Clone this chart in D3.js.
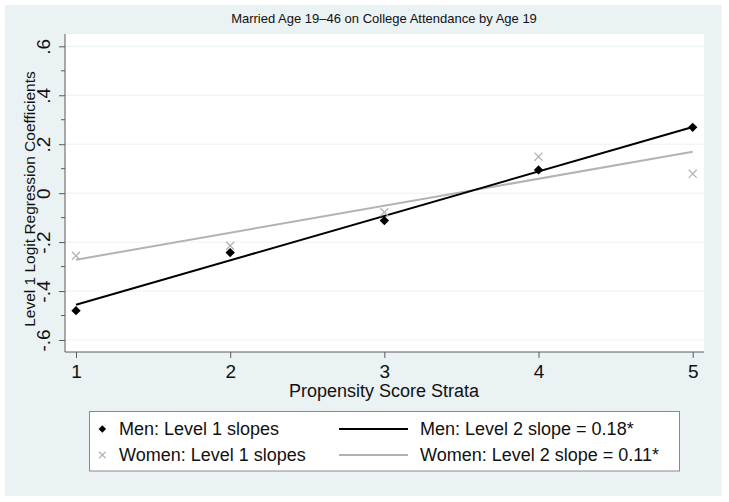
<!DOCTYPE html>
<html>
<head>
<meta charset="utf-8">
<script src="https://cdn.jsdelivr.net/npm/d3@7"></script>
<style>
  html, body { margin: 0; padding: 0; background: #ffffff; }
  svg { display: block; }
  text { font-family: "Liberation Sans", Arial, sans-serif; fill: #111; }
</style>
</head>
<body>
<svg id="chart" width="729" height="502"></svg>
<script>
// ---- data ----
const strata = [1, 2, 3, 4, 5];
const menSlopes = [-0.48, -0.243, -0.112, 0.095, 0.269];
const womenSlopes = [-0.256, -0.215, -0.078, 0.149, 0.079];
const menFit = [-0.456, 0.27];      // fitted line at strata 1 and 5
const womenFit = [-0.272, 0.169];
const fitX = [1, 5];
const yTicks = [-0.6, -0.4, -0.2, 0, 0.2, 0.4, 0.6];
const yTickLabels = ["-.6", "-.4", "-.2", "0", ".2", ".4", ".6"];
const yMinorTicks = [-0.5, -0.3, -0.1, 0.1, 0.3, 0.5];
const xTicks = [1, 2, 3, 4, 5];
const title = "Married Age 19\u201346 on College Attendance by Age 19";
const yTitle = "Level 1 Logit Regression Coefficients";
const xTitle = "Propensity Score Strata";
const legendLabels = ["Men: Level 1 slopes", "Women: Level 1 slopes",
                      "Men: Level 2 slope = 0.18*", "Women: Level 2 slope = 0.11*"];

// ---- layout ----
const svg = d3.select("#chart");
const bg = { x: 5, y: 5, w: 716.5, h: 491 };
const plot = { left: 65, right: 704, top: 34, bottom: 352 };
const menColor = "#000000", womenColor = "#b3b3b3";
const axisColor = "#5a5a5a";

svg.append("rect").attr("x", bg.x).attr("y", bg.y).attr("width", bg.w).attr("height", bg.h)
  .attr("fill", "#eaf2f3");
svg.append("rect").attr("x", plot.left).attr("y", plot.top)
  .attr("width", plot.right - plot.left).attr("height", plot.bottom - plot.top)
  .attr("fill", "#ffffff");

const x = d3.scaleLinear().domain([1, 5]).range([76, 692.7]);
const y = d3.scaleLinear().domain([-0.6, 0.6]).range([340, 46.3]);

// gridlines
svg.append("g").selectAll("line").data(yTicks).join("line")
  .attr("x1", plot.left).attr("x2", plot.right)
  .attr("y1", d => y(d)).attr("y2", d => y(d))
  .attr("stroke", "#eaf2f3").attr("stroke-width", 1);

// y axis
const yAxis = d3.axisLeft(y).tickValues(yTicks)
  .tickFormat((d, i) => yTickLabels[i]).tickSize(6).tickPadding(5);
const gy = svg.append("g").attr("transform", `translate(${plot.left},0)`).call(yAxis);
gy.select(".domain").remove();
gy.selectAll(".tick line").attr("stroke", axisColor);
gy.selectAll(".tick text")
  .attr("font-size", 19)
  .attr("fill", "#111")
  .attr("text-anchor", "middle")
  .attr("transform", "rotate(-90)")
  .attr("x", 0).attr("y", -15).attr("dy", "0");
// minor ticks
svg.append("g").selectAll("line").data(yMinorTicks).join("line")
  .attr("x1", plot.left - 4).attr("x2", plot.left)
  .attr("y1", d => y(d)).attr("y2", d => y(d))
  .attr("stroke", axisColor);
svg.append("line").attr("x1", plot.left).attr("x2", plot.left)
  .attr("y1", plot.top).attr("y2", plot.bottom).attr("stroke", axisColor);

// x axis
const xAxis = d3.axisBottom(x).tickValues(xTicks).tickFormat(d3.format("d"))
  .tickSize(6).tickPadding(7);
const gx = svg.append("g").attr("transform", `translate(0,${plot.bottom})`).call(xAxis);
gx.select(".domain").remove();
gx.selectAll(".tick line").attr("stroke", axisColor);
gx.selectAll(".tick text").attr("font-size", 19).attr("fill", "#111");
svg.append("line").attr("x1", plot.left).attr("x2", plot.right)
  .attr("y1", plot.bottom).attr("y2", plot.bottom).attr("stroke", axisColor);

// titles
svg.append("text").attr("x", 384).attr("y", 23).attr("text-anchor", "middle")
  .attr("font-size", 13).text(title);
svg.append("text").attr("transform", `translate(35,${(plot.top + plot.bottom) / 2 + 6}) rotate(-90)`)
  .attr("text-anchor", "middle").attr("font-size", 15.5).text(yTitle);
svg.append("text").attr("x", 384).attr("y", 397).attr("text-anchor", "middle")
  .attr("font-size", 18).text(xTitle);

// fitted lines
const line = d3.line().x(d => x(d[0])).y(d => y(d[1]));
svg.append("path").datum(fitX.map((v, i) => [v, womenFit[i]]))
  .attr("d", line).attr("fill", "none").attr("stroke", womenColor).attr("stroke-width", 2);
svg.append("path").datum(fitX.map((v, i) => [v, menFit[i]]))
  .attr("d", line).attr("fill", "none").attr("stroke", menColor).attr("stroke-width", 2);

// markers
const diamond = d3.symbol().type(d3.symbolDiamond2).size(56);
const cross = d3.symbol().type(d3.symbolX).size(44);
svg.append("g").selectAll("path").data(strata.map((s, i) => [s, womenSlopes[i]])).join("path")
  .attr("d", cross).attr("transform", d => `translate(${x(d[0])},${y(d[1])})`)
  .attr("fill", "none").attr("stroke", womenColor).attr("stroke-width", 1.3);
svg.append("g").selectAll("path").data(strata.map((s, i) => [s, menSlopes[i]])).join("path")
  .attr("d", diamond).attr("transform", d => `translate(${x(d[0])},${y(d[1])})`)
  .attr("fill", menColor);

// legend
const lg = { x: 89.5, y: 411.5, w: 590, h: 59.5 };
svg.append("rect").attr("x", lg.x).attr("y", lg.y).attr("width", lg.w).attr("height", lg.h)
  .attr("fill", "#ffffff").attr("stroke", "#8a8a8a").attr("stroke-width", 1);
const rowY = [429, 455];
svg.append("path").attr("d", d3.symbol().type(d3.symbolDiamond2).size(36))
  .attr("transform", `translate(102.3,${rowY[0]})`).attr("fill", menColor);
svg.append("path").attr("d", d3.symbol().type(d3.symbolX).size(30))
  .attr("transform", `translate(102.3,${rowY[1]})`).attr("fill", "none")
  .attr("stroke", womenColor).attr("stroke-width", 1.2);
svg.append("line").attr("x1", 339).attr("x2", 408).attr("y1", rowY[0]).attr("y2", rowY[0])
  .attr("stroke", menColor).attr("stroke-width", 2);
svg.append("line").attr("x1", 339).attr("x2", 408).attr("y1", rowY[1]).attr("y2", rowY[1])
  .attr("stroke", womenColor).attr("stroke-width", 2);
const legendPos = [[119, rowY[0]], [119, rowY[1]], [420, rowY[0]], [420, rowY[1]]];
svg.append("g").selectAll("text").data(legendLabels).join("text")
  .attr("x", (d, i) => legendPos[i][0]).attr("y", (d, i) => legendPos[i][1])
  .attr("dy", "0.36em").attr("font-size", 18).text(d => d);
</script>
</body>
</html>
